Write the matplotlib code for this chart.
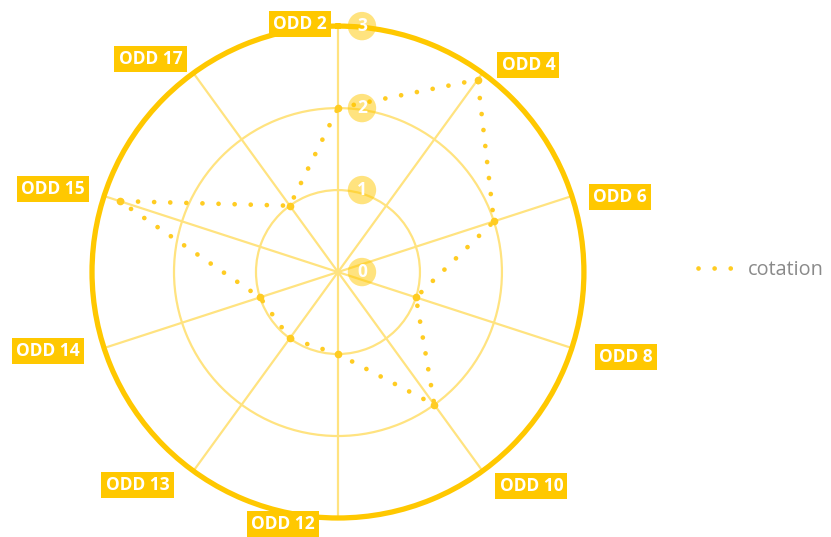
import numpy as np
import matplotlib.pyplot as plt
from matplotlib.lines import Line2D

categories = ["ODD 2", "ODD 4", "ODD 6", "ODD 8", "ODD 10",
              "ODD 12", "ODD 13", "ODD 14", "ODD 15", "ODD 17"]
cotation = [2, 2.9, 2, 1, 2, 1, 1, 1, 2.8, 1]
ticks = [0, 1, 2, 3]

gold = "#FFC800"
dot_col = "#FFCC22"
grid_col = "#FFE380"

# label offsets in pixels (dx, dy) and alignment
lab_off = [(-11, 2, "right"), (19, 8, "left"), (21, -1, "left"), (27, -9, "left"),
           (17, -15, "left"), (-23, -6, "right"), (-24, -14, "right"),
           (-24, -3, "right"), (-19, 7, "right"), (-11, 14, "right")]

plt.rcParams['font.family'] = ['Open Sans', 'DejaVu Sans']

fig = plt.figure(figsize=(8.31, 5.37), dpi=100)
ax = fig.add_axes([0.1107, 0.0354, 0.592, 0.916], projection='polar')
ax.set_theta_zero_location('N')
ax.set_theta_direction(-1)

n = len(categories)
theta = np.arange(n) * 2 * np.pi / n

ax.set_ylim(0, 3)
ax.set_xticks(theta)
ax.set_xticklabels([])
ax.set_yticks([1, 2])
ax.set_yticklabels([])
ax.grid(True, color=grid_col, linewidth=1.6)
ax.spines['polar'].set_color(gold)
ax.spines['polar'].set_linewidth(3.8)

# polygon
th = np.append(theta, theta[0])
vals = np.append(cotation, cotation[0])
ax.plot(th, vals, color=dot_col, linewidth=3.4, linestyle=(0, (0.01, 3.4)),
        dash_capstyle='round', label='cotation', zorder=4)
ax.plot(theta, cotation, linestyle='none', marker='o', markersize=4.5,
        color=dot_col, zorder=5)

# radial tick labels
for t in ticks:
    ax.annotate(str(t), xy=(0, t), xytext=(24, 0), textcoords='offset pixels',
                ha='center', va='center', color='white', fontsize=12.5,
                fontweight='bold', zorder=6,
                bbox=dict(boxstyle='circle,pad=0.3', fc=gold, ec='none', alpha=0.5))

# category labels
for ang, lab, (dx, dy, ha) in zip(theta, categories, lab_off):
    ax.annotate(lab, xy=(ang, 3), xytext=(dx, dy), textcoords='offset pixels',
                ha=ha, va='center', color='white', fontsize=12.5, fontweight='bold',
                annotation_clip=False, zorder=7,
                bbox=dict(boxstyle='square,pad=0.25', fc=gold, ec='none'))

handle = Line2D([0], [0], color=dot_col, linewidth=3.4, linestyle=(0, (0.01, 3.4)),
                dash_capstyle='round')
leg = fig.legend([handle], ['cotation'], loc='center left',
                 bbox_to_anchor=(0.818, 0.497), frameon=False,
                 handlelength=1.85, handletextpad=0.7, labelcolor='#8a8a8a',
                 prop={'family': 'Open Sans', 'size': 14.3})

fig.savefig("out.png", dpi=100)
